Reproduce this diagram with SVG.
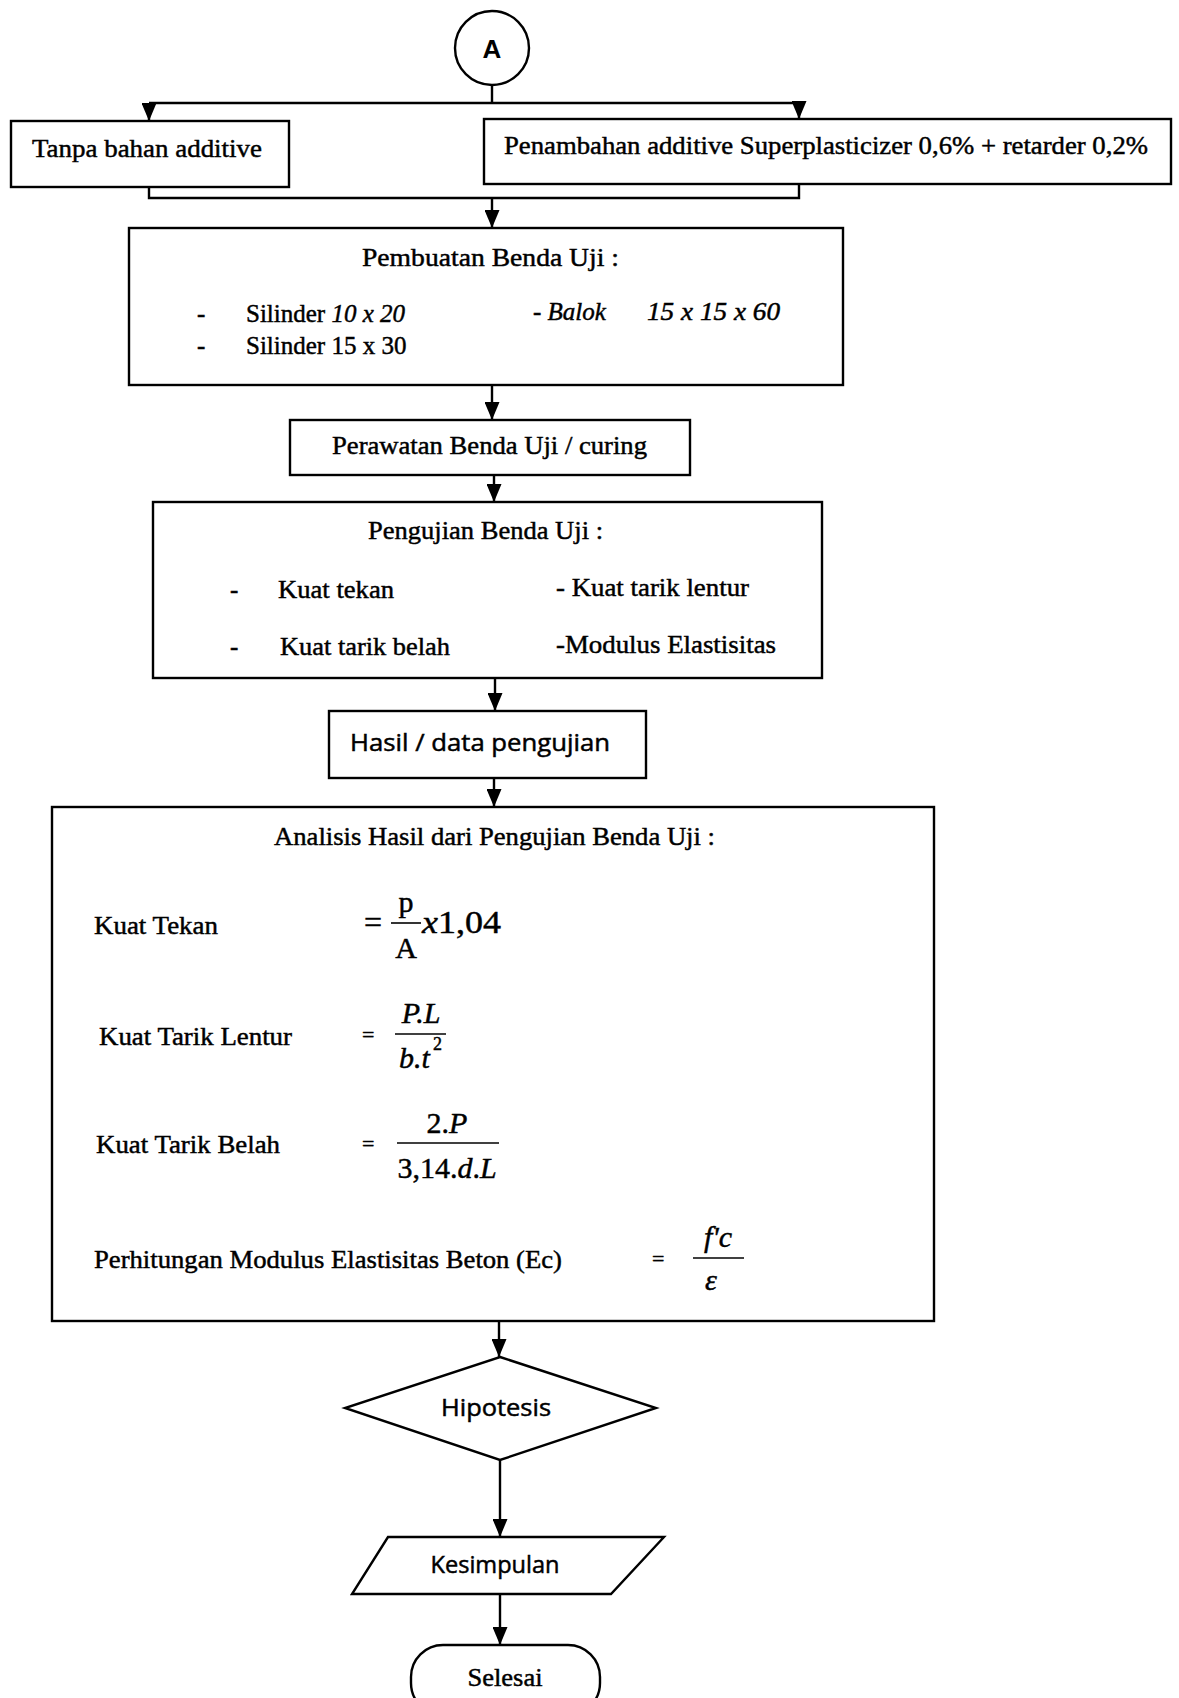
<svg xmlns="http://www.w3.org/2000/svg" width="1179" height="1698" viewBox="0 0 1179 1698">
<style>
.b{fill:#fff;stroke:#000;stroke-width:2.4}
.c{fill:none;stroke:#000;stroke-width:2.4}
.t{font-family:"Liberation Serif","Times New Roman",serif;font-size:25px;fill:#000;stroke:#000;stroke-width:0.45}
.i{font-style:italic}
.s{font-family:"Open Sans","Liberation Sans",sans-serif;font-size:24px;fill:#000;stroke:#000;stroke-width:0.5}
.m{text-anchor:middle}
</style>
<defs>
<marker id="ah" markerWidth="18" markerHeight="15" refX="18" refY="7.5" orient="auto" markerUnits="userSpaceOnUse">
<path d="M0,0 L18,7.5 L0,15 Z" fill="#000"/>
</marker>
</defs>
<rect width="1179" height="1698" fill="#fff"/>
<g id="connectors">
<path class="c" d="M492,85 V103"/>
<path class="c" d="M149,103 H799"/>
<path class="c" d="M149,103 V121" marker-end="url(#ah)"/>
<path class="c" d="M799,103 V119" marker-end="url(#ah)"/>
<path class="c" d="M149,187 V198 H799 V184"/>
<path class="c" d="M492,198 V228" marker-end="url(#ah)"/>
<path class="c" d="M492,385 V420" marker-end="url(#ah)"/>
<path class="c" d="M494,475 V502" marker-end="url(#ah)"/>
<path class="c" d="M495,678 V711" marker-end="url(#ah)"/>
<path class="c" d="M494,778 V807" marker-end="url(#ah)"/>
<path class="c" d="M499,1321 V1357" marker-end="url(#ah)"/>
<path class="c" d="M500,1460 V1537" marker-end="url(#ah)"/>
<path class="c" d="M500,1594 V1645" marker-end="url(#ah)"/>
</g>
<g id="node-A">
<circle class="b" cx="492" cy="48" r="37"/>
<text x="492" y="58" class="m" style="font-family:'Liberation Sans',Arial,sans-serif;font-weight:bold;font-size:26px">A</text>
</g>
<g id="node-tanpa">
<rect class="b" x="11" y="121" width="278" height="66"/>
<text class="t" x="32" y="157" textLength="230" lengthAdjust="spacingAndGlyphs">Tanpa bahan additive</text>
</g>
<g id="node-penambahan">
<rect class="b" x="484" y="119" width="687" height="65"/>
<text class="t" x="504" y="154" textLength="644" lengthAdjust="spacingAndGlyphs">Penambahan additive Superplasticizer 0,6% + retarder 0,2%</text>
</g>
<g id="node-pembuatan">
<rect class="b" x="129" y="228" width="714" height="157"/>
<text class="t" x="362" y="266" textLength="257" lengthAdjust="spacingAndGlyphs">Pembuatan Benda Uji :</text>
<text class="t" x="197" y="322">-</text>
<text class="t" x="246" y="322">Silinder  <tspan class="i">10 x 20</tspan></text>
<text class="t i" x="533" y="320">- Balok</text>
<text class="t i" x="647" y="320" textLength="133" lengthAdjust="spacingAndGlyphs">15 x 15 x 60</text>
<text class="t" x="197" y="354">-</text>
<text class="t" x="246" y="354">Silinder  15 x 30</text>
</g>
<g id="node-perawatan">
<rect class="b" x="290" y="420" width="400" height="55"/>
<text class="t" x="332" y="454" textLength="315" lengthAdjust="spacingAndGlyphs">Perawatan Benda Uji / curing</text>
</g>
<g id="node-pengujian">
<rect class="b" x="153" y="502" width="669" height="176"/>
<text class="t" x="368" y="539" textLength="235" lengthAdjust="spacingAndGlyphs">Pengujian Benda Uji :</text>
<text class="t" x="230" y="598">-</text>
<text class="t" x="278" y="598" textLength="116" lengthAdjust="spacingAndGlyphs">Kuat tekan</text>
<text class="t" x="556" y="596" textLength="193" lengthAdjust="spacingAndGlyphs">- Kuat tarik lentur</text>
<text class="t" x="230" y="655">-</text>
<text class="t" x="280" y="655" textLength="170" lengthAdjust="spacingAndGlyphs">Kuat tarik belah</text>
<text class="t" x="556" y="653" textLength="220" lengthAdjust="spacingAndGlyphs">-Modulus Elastisitas</text>
</g>
<g id="node-hasil">
<rect class="b" x="329" y="711" width="317" height="67"/>
<text class="s" x="350" y="751" textLength="260" lengthAdjust="spacingAndGlyphs">Hasil / data pengujian</text>
</g>
<g id="node-analisis">
<rect class="b" x="52" y="807" width="882" height="514"/>
<text class="t" x="274" y="845" textLength="441" lengthAdjust="spacingAndGlyphs">Analisis Hasil dari Pengujian Benda Uji :</text>
<text class="t" x="94" y="934" textLength="124" lengthAdjust="spacingAndGlyphs">Kuat Tekan</text>
<text class="t" x="364" y="933" style="font-size:32px">=</text>
<text class="t m" x="406" y="912" style="font-size:30px">p</text>
<line class="c" x1="391" y1="923" x2="421" y2="923" style="stroke-width:1.6"/>
<text class="t m" x="406" y="958" style="font-size:30px">A</text>
<text class="t" x="422" y="933" style="font-size:32px" textLength="79" lengthAdjust="spacingAndGlyphs"><tspan class="i">x</tspan>1,04</text>
<text class="t" x="99" y="1045" textLength="193" lengthAdjust="spacingAndGlyphs">Kuat Tarik Lentur</text>
<text class="t" x="362" y="1042" style="font-size:22px">=</text>
<text class="t i m" x="421" y="1023" style="font-size:30px">P.L</text>
<line class="c" x1="395" y1="1034" x2="446" y2="1034" style="stroke-width:1.6"/>
<text class="t i" x="399" y="1068" style="font-size:30px">b.t</text>
<text class="t" x="433" y="1050" style="font-size:18px">2</text>
<text class="t" x="96" y="1153" textLength="184" lengthAdjust="spacingAndGlyphs">Kuat Tarik Belah</text>
<text class="t" x="362" y="1151" style="font-size:22px">=</text>
<text class="t m" x="447" y="1133" style="font-size:30px">2.<tspan class="i">P</tspan></text>
<line class="c" x1="397" y1="1143" x2="499" y2="1143" style="stroke-width:1.6"/>
<text class="t m" x="447" y="1178" style="font-size:30px">3,14.<tspan class="i">d</tspan>.<tspan class="i">L</tspan></text>
<text class="t" x="94" y="1268" textLength="468" lengthAdjust="spacingAndGlyphs">Perhitungan Modulus Elastisitas Beton (Ec)</text>
<text class="t" x="652" y="1266" style="font-size:22px">=</text>
<text class="t i m" x="718" y="1247" style="font-size:30px">f'c</text>
<line class="c" x1="693" y1="1258" x2="744" y2="1258" style="stroke-width:1.6"/>
<text class="t i m" x="711" y="1290" style="font-size:30px">ε</text>
</g>
<g id="node-hipotesis">
<polygon class="b" points="500,1357 656,1408 500,1460 345,1408"/>
<text class="s m" x="496" y="1416" textLength="110" lengthAdjust="spacingAndGlyphs">Hipotesis</text>
</g>
<g id="node-kesimpulan">
<polygon class="b" points="388,1537 664,1537 611,1594 352,1594"/>
<text class="s m" x="495" y="1573" textLength="129" lengthAdjust="spacingAndGlyphs">Kesimpulan</text>
</g>
<g id="node-selesai">
<rect class="b" x="411" y="1645" width="189" height="70" rx="32" ry="32"/>
<text class="t m" x="505" y="1686" textLength="75" lengthAdjust="spacingAndGlyphs">Selesai</text>
</g>
</svg>
